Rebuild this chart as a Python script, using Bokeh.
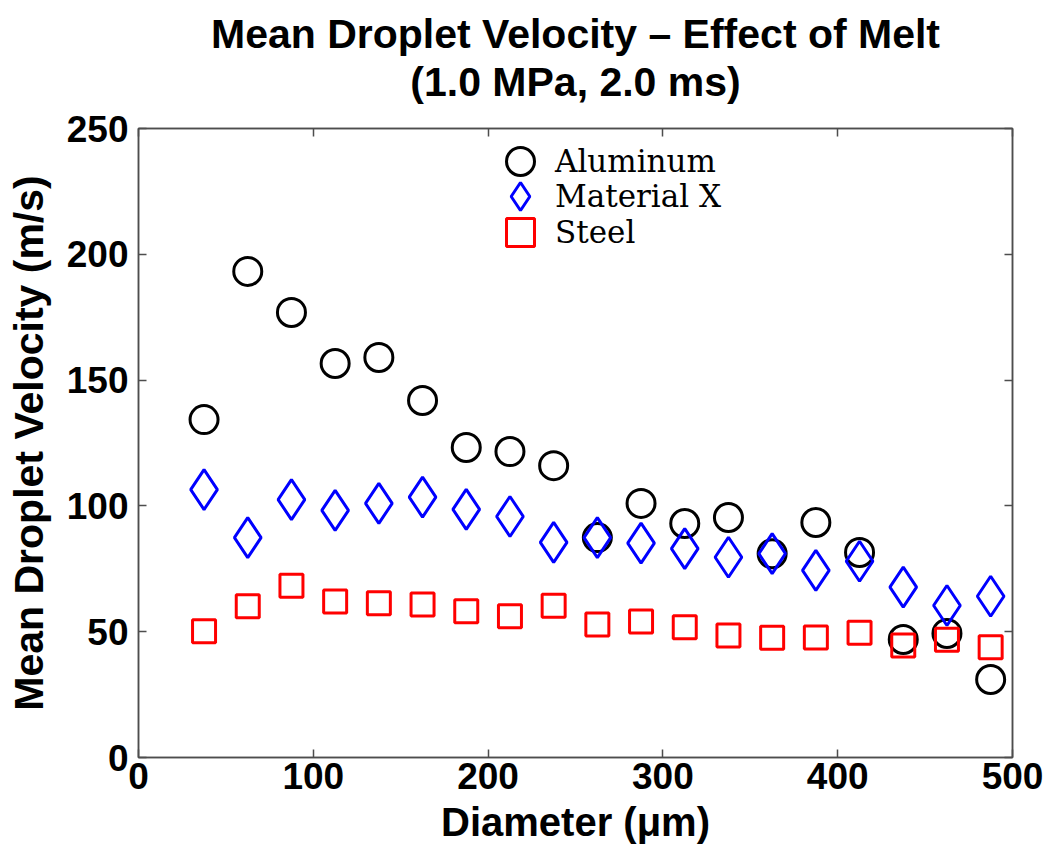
from bokeh.plotting import figure
from bokeh.models import (Range1d, LinearAxis, Title, Legend, LegendItem, FixedTicker,
                          CustomJSTickFormatter)
from bokeh.embed import file_html
from bokeh.resources import INLINE

diameter = [37.5, 62.5, 87.5, 112.5, 137.5, 162.5, 187.5, 212.5, 237.5, 262.5,
            287.5, 312.5, 337.5, 362.5, 387.5, 412.5, 437.5, 462.5, 487.5]
aluminum = [134.3, 193.2, 176.9, 156.6, 159.0, 141.9, 123.2, 121.6, 116.0, 87.4,
            101.0, 93.0, 95.4, 81.0, 93.4, 81.5, 46.9, 49.3, 31.0]
material_x = [106.5, 87.4, 102.5, 98.2, 101.0, 103.5, 98.6, 95.8, 85.5, 87.4,
              85.2, 83.0, 79.6, 81.0, 74.4, 78.0, 67.7, 60.4, 64.1]
steel = [50.2, 60.1, 68.3, 62.0, 61.3, 60.8, 58.1, 56.1, 60.3, 52.9,
         54.1, 51.8, 48.5, 47.6, 47.7, 49.6, 44.5, 46.8, 43.8]
x_ticks = [0, 100, 200, 300, 400, 500]
y_ticks = [0, 50, 100, 150, 200, 250]
series_names = ["Aluminum", "Material X", "Steel"]
title_lines = ["Mean Droplet Velocity \u2013 Effect of Melt", "(1.0 MPa, 2.0 ms)"]

FONT = "Liberation Sans"
AXIS_COLOR = "#4d4d4d"

p = figure(width=1052, height=850, output_backend="svg", toolbar_location=None,
           title=None, x_range=Range1d(0, 500), y_range=Range1d(0, 250),
           min_border_left=138, min_border_right=40, min_border_top=128,
           min_border_bottom=93)
p.background_fill_color = "white"
p.border_fill_color = "white"
p.outline_line_color = AXIS_COLOR
p.outline_line_width = 1.5
p.grid.visible = False

r_al = p.scatter(diameter, aluminum, marker="circle", size=28, fill_color=None,
                 line_color="black", line_width=3)
r_mx = p.scatter(diameter, material_x, marker="diamond", size=40, fill_color=None,
                 line_color="#0000ff", line_width=3)
r_st = p.scatter(diameter, steel, marker="square", size=23, fill_color=None,
                 line_color="#ff0000", line_width=3)

for ax in (p.xaxis[0], p.yaxis[0]):
    ax.major_tick_in = 8
    ax.major_tick_out = 0
    ax.minor_tick_line_color = None
    ax.axis_line_color = AXIS_COLOR
    ax.axis_line_width = 1.5
    ax.major_tick_line_color = AXIS_COLOR
    ax.major_tick_line_width = 1.5
    ax.major_label_text_font = FONT
    ax.major_label_text_font_size = "37px"
    ax.major_label_text_font_style = "bold"
    ax.major_label_text_color = "black"
    ax.axis_label_text_font = FONT
    ax.axis_label_text_font_style = "bold"
    ax.axis_label_text_color = "black"

p.xaxis[0].ticker = FixedTicker(ticks=x_ticks)
p.yaxis[0].ticker = FixedTicker(ticks=y_ticks)
p.xaxis[0].axis_label = "Diameter (μm)"
p.yaxis[0].axis_label = "Mean Droplet Velocity (m/s)"
p.xaxis[0].axis_label_text_font_size = "40px"
p.yaxis[0].axis_label_text_font_size = "41px"
p.xaxis[0].major_label_standoff = 5
p.xaxis[0].axis_label_standoff = 8
p.yaxis[0].major_label_standoff = 10
p.yaxis[0].axis_label_standoff = 12

for loc, ticks in (("above", x_ticks), ("right", y_ticks)):
    ax = LinearAxis(ticker=FixedTicker(ticks=ticks),
                    formatter=CustomJSTickFormatter(code="return ''"))
    ax.major_tick_in = 8
    ax.major_tick_out = 0
    ax.minor_tick_line_color = None
    ax.axis_line_color = AXIS_COLOR
    ax.axis_line_width = 1.5
    ax.major_tick_line_color = AXIS_COLOR
    ax.major_tick_line_width = 1.5
    ax.major_label_standoff = 0
    p.add_layout(ax, loc)

# thin spacer between the frame and the two title lines
spacer = Title(text=" ", text_font_size="1px", standoff=21)
t2 = Title(text=title_lines[1], align="center", text_font=FONT,
           text_font_size="41px", text_font_style="bold", text_color="black",
           text_line_height=0.7, standoff=0)
t1 = Title(text=title_lines[0], align="center", text_font=FONT,
           text_font_size="41px", text_font_style="bold", text_color="black",
           text_line_height=0.7, standoff=0)
p.add_layout(spacer, "above")
p.add_layout(t2, "above")
p.add_layout(t1, "above")

# one single-item legend per series so the rows can sit close together
renderers = [r_al, r_mx, r_st]
legend_y = [561, 526, 490]
for name, rend, ly in zip(series_names, renderers, legend_y):
    lg = Legend(items=[LegendItem(label=name, renderers=[rend])],
                location=(347, ly), glyph_width=70, glyph_height=70,
                label_standoff=0, padding=0, margin=0, spacing=0,
                label_text_font="DejaVu Serif", label_text_font_size="31px",
                label_text_color="black", border_line_color=None,
                background_fill_alpha=0)
    p.add_layout(lg, "center")

open("out.html", "w").write(file_html(p, INLINE))
